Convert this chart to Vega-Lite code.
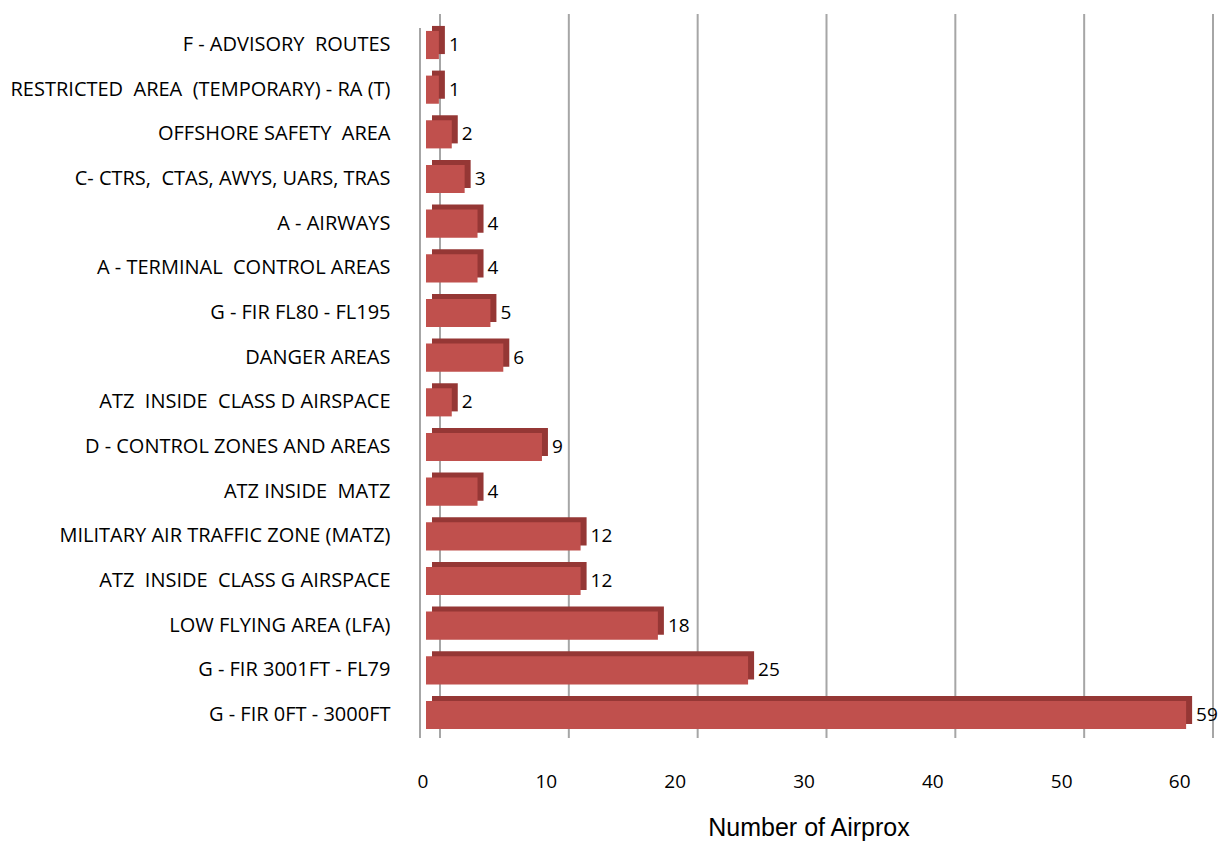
{
  "$schema": "https://vega.github.io/schema/vega-lite/v6.json",
  "width": 773,
  "height": 716,
  "autosize": "none",
  "padding": {"left": 422, "top": 22, "right": 32, "bottom": 104},
  "background": "white",
  "config": {"view": {"stroke": null}, "font": "Open Sans"},
  "datasets": {
    "bars": [
      {"zone": "F - ADVISORY\u00a0 ROUTES", "n": 1},
      {"zone": "RESTRICTED\u00a0 AREA\u00a0 (TEMPORARY) - RA (T)", "n": 1},
      {"zone": "OFFSHORE SAFETY\u00a0 AREA", "n": 2},
      {"zone": "C- CTRS,\u00a0 CTAS, AWYS, UARS, TRAS", "n": 3},
      {"zone": "A - AIRWAYS", "n": 4},
      {"zone": "A - TERMINAL\u00a0 CONTROL AREAS", "n": 4},
      {"zone": "G - FIR FL80 - FL195", "n": 5},
      {"zone": "DANGER AREAS", "n": 6},
      {"zone": "ATZ\u00a0 INSIDE\u00a0 CLASS D AIRSPACE", "n": 2},
      {"zone": "D - CONTROL ZONES AND AREAS", "n": 9},
      {"zone": "ATZ INSIDE\u00a0 MATZ", "n": 4},
      {"zone": "MILITARY AIR TRAFFIC ZONE (MATZ)", "n": 12},
      {"zone": "ATZ\u00a0 INSIDE\u00a0 CLASS G AIRSPACE", "n": 12},
      {"zone": "LOW FLYING AREA (LFA)", "n": 18},
      {"zone": "G - FIR 3001FT - FL79", "n": 25},
      {"zone": "G - FIR 0FT - 3000FT", "n": 59}
    ],
    "grid": [{"v": 0}, {"v": 10}, {"v": 20}, {"v": 30}, {"v": 40}, {"v": 50}, {"v": 60}]
  },
  "layer": [
    {
      "data": {"name": "grid"},
      "mark": {"type": "rule", "color": "#A6A6A6", "strokeWidth": 2, "xOffset": 18, "yOffset": -8},
      "encoding": {"x": {"field": "v", "type": "quantitative", "scale": {"domain": [0, 60]}}}
    },
    {
      "data": {"name": "grid"},
      "transform": [{"filter": "datum.v == 0"}],
      "mark": {"type": "rule", "color": "#A6A6A6", "strokeWidth": 2, "xOffset": -2, "yOffset": 6},
      "encoding": {"x": {"field": "v", "type": "quantitative"}}
    },
    {
      "data": {"name": "bars"},
      "mark": {"type": "bar", "color": "#953735", "xOffset": 10, "yOffset": -5},
      "encoding": {
        "y": {"field": "zone", "type": "nominal", "sort": null, "scale": {"paddingInner": 0.37, "paddingOuter": 0.2}},
        "x": {"field": "n", "type": "quantitative"}
      }
    },
    {
      "data": {"name": "bars"},
      "mark": {"type": "bar", "color": "#C0504D", "xOffset": 4},
      "encoding": {
        "y": {
          "field": "zone", "type": "nominal", "sort": null,
          "axis": {"title": null, "domain": false, "ticks": false, "labelPadding": 32, "labelFontSize": 20, "labelColor": "#000000", "labelFont": "Open Sans", "labelLimit": 440}
        },
        "x": {
          "field": "n", "type": "quantitative",
          "axis": {
            "title": "Number of Airprox", "titleFont": "Liberation Sans", "titleFontSize": 25, "titleFontWeight": "normal", "titleColor": "#000000", "titlePadding": 24,
            "values": [0, 10, 20, 30, 40, 50, 60], "domain": false, "ticks": false, "grid": false,
            "labelPadding": 34, "labelFontSize": 19, "labelColor": "#000000", "labelFont": "Open Sans", "labelOffset": -5
          }
        }
      }
    },
    {
      "data": {"name": "bars"},
      "mark": {"type": "text", "align": "left", "dx": 14, "fontSize": 19, "font": "Open Sans", "color": "#000000"},
      "encoding": {
        "y": {"field": "zone", "type": "nominal", "sort": null},
        "x": {"field": "n", "type": "quantitative"},
        "text": {"field": "n", "type": "quantitative"}
      }
    }
  ]
}
